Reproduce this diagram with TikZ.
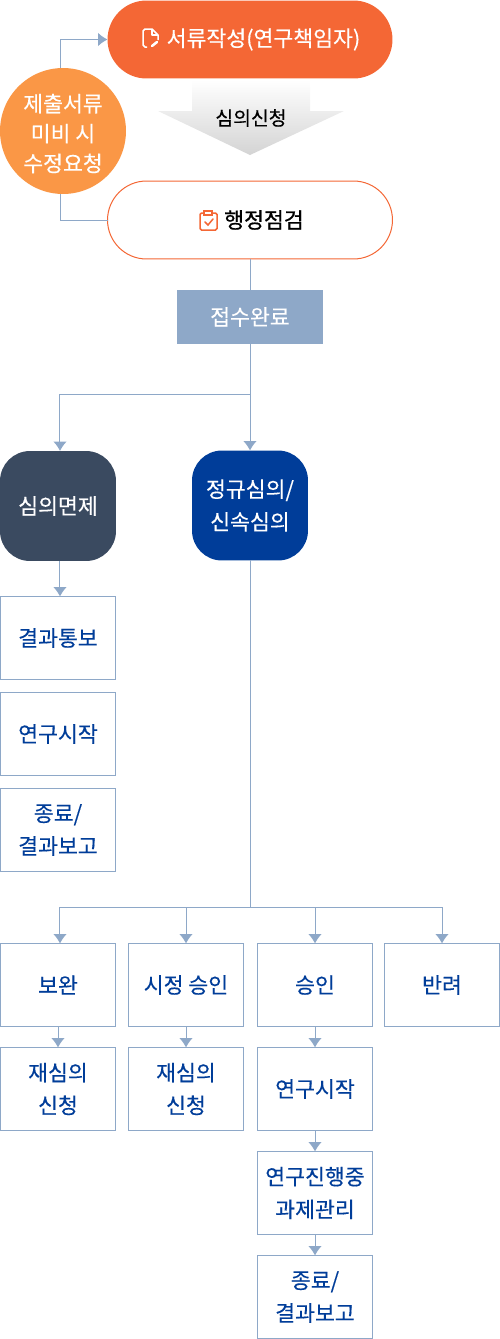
\documentclass[tikz,border=0pt]{standalone}
\usepackage{fontspec}
\setmainfont{Noto Sans CJK KR}[FakeBold=0.35]
\newfontfamily\heavyfont{Noto Sans CJK KR}[FakeBold=0.8]
\usepackage{tikz}
\usetikzlibrary{arrows.meta}
\definecolor{linkblue}{HTML}{8EA8C8}
\definecolor{textblue}{HTML}{003D99}
\definecolor{pillorange}{HTML}{F46735}
\definecolor{circleorange}{HTML}{FA9746}
\definecolor{slatebox}{HTML}{3A4A60}
\tikzset{
    label text/.style={font=\fontsize{12.3}{18.6}\selectfont, align=center, inner sep=0pt, outer sep=0pt},
    pill/.style={label text, rectangle, rounded corners=0.78cm, minimum width=5.7cm, minimum height=1.56cm},
    stagebox/.style={label text, rectangle, draw=linkblue, line width=0.02cm, fill=white, text=textblue, minimum width=2.3cm},
    tallbox/.style={stagebox, minimum height=1.66cm},
    roundbox/.style={label text, rectangle, rounded corners=0.6cm, text=white, minimum width=2.32cm, minimum height=2.2cm},
    link/.style={draw=linkblue, line width=0.02cm},
    arrowlink/.style={link, -{Latex[length=0.19cm, width=0.27cm]}},
}
\begin{document}
\begin{tikzpicture}[x=0.02cm, y=-0.02cm]
        \useasboundingbox (0,0) rectangle (500,1339);

        \path[shade, top color=white, bottom color=black!17] (192,80) -- (310,80) -- (310,111) -- (344,111) -- (250,155) -- (158,111) -- (192,111) -- cycle;
        \node[label text, font=\fontsize{11}{18}\selectfont, text=black] (apply) at (251,118) {심의신청};

        \node[pill, fill=pillorange, text=white] (write) at (250,39.5) {\hspace{0.54cm}서류작성(연구책임자)};
        \node[pill, draw=pillorange, line width=0.02cm, fill=white, text=black] (check) at (250,220) {\hspace{0.56cm}\heavyfont 행정점검};
        \node[label text, circle, font=\fontsize{12.3}{17}\selectfont, fill=circleorange, text=white, minimum size=2.52cm] (recheck) at (63,131) {\rule{0pt}{0.46cm}제출서류\\미비 시\\수정요청};
        \node[label text, rectangle, fill=linkblue, text=white, minimum width=2.92cm, minimum height=1.08cm] (done) at (250,317) {접수완료};
        \coordinate (split) at (250,394);

        \node[roundbox, fill=slatebox] (exempt) at (58,506) {심의면제};
        \node[roundbox, fill=textblue] (regular) at (250,505.5) {정규심의/\\신속심의};

        \node[tallbox] (notice) at (58,638) {결과통보};
        \node[tallbox] (start) at (58,734) {연구시작};
        \node[tallbox] (finish) at (58,830) {종료/\\결과보고};

        \coordinate (branch) at (250,907);
        \node[tallbox] (revise) at (58,985) {보완};
        \node[tallbox] (conditional) at (186,985) {시정 승인};
        \node[tallbox] (approve) at (315,985) {승인};
        \node[tallbox] (reject) at (442,985) {반려};

        \node[tallbox] (reviseagain) at (58,1089) {재심의\\신청};
        \node[tallbox] (conditionalagain) at (186,1089) {재심의\\신청};
        \node[tallbox] (startb) at (315,1089) {연구시작};
        \node[tallbox] (progress) at (315,1193) {연구진행중\\과제관리};
        \node[tallbox] (finishb) at (315,1297) {종료/\\결과보고};

        \draw[arrowlink] ([xshift=-0.06cm]recheck.north) |- (write.west);
        \draw[link] ([xshift=-0.06cm]recheck.south) |- (check.west);
        \draw[link] (check.south) -- (done.north);
        \draw[link] (done.south) -- (split);
        \draw[arrowlink] (split) -| ([xshift=0.04cm]exempt.north);
        \draw[arrowlink] (split) -- (regular.north);
        \draw[arrowlink] ([xshift=0.04cm]exempt.south) -- ([xshift=0.04cm]notice.north);
        \draw[link] (regular.south) -- (branch);
        \draw[arrowlink] (branch) -| ([xshift=0.04cm]revise.north);
        \draw[arrowlink] (branch) -| (conditional.north);
        \draw[arrowlink] (branch) -| (approve.north);
        \draw[arrowlink] (branch) -| (reject.north);
        \draw[arrowlink] (revise.south) -- (reviseagain.north);
        \draw[arrowlink] (conditional.south) -- (conditionalagain.north);
        \draw[arrowlink] (approve.south) -- (startb.north);
        \draw[arrowlink] (startb.south) -- (progress.north);
        \draw[arrowlink] (progress.south) -- (finishb.north);

        \draw[white, line width=0.03cm, line join=round] (147,47) -- (145,47) -- (143,45) -- (143,31) -- (145,29) -- (152,29) -- (158,35) -- (158,40);
        \draw[white, line width=0.03cm, line join=round] (152,29) -- (152,35) -- (158,35);
        \draw[white, line width=0.05cm, line cap=round] (152,46) -- (157,42);

        \draw[pillorange, line width=0.03cm, rounded corners=0.03cm] (204,213) -- (200,213) -- (200,230) -- (217,230) -- (217,213) -- (212,213);
        \draw[pillorange, line width=0.03cm, fill=white] (204,211) rectangle (212,215);
        \draw[pillorange, line width=0.03cm, line cap=round] (205,222) -- (208,225) -- (213,219);
        \end{tikzpicture}
\end{document}
